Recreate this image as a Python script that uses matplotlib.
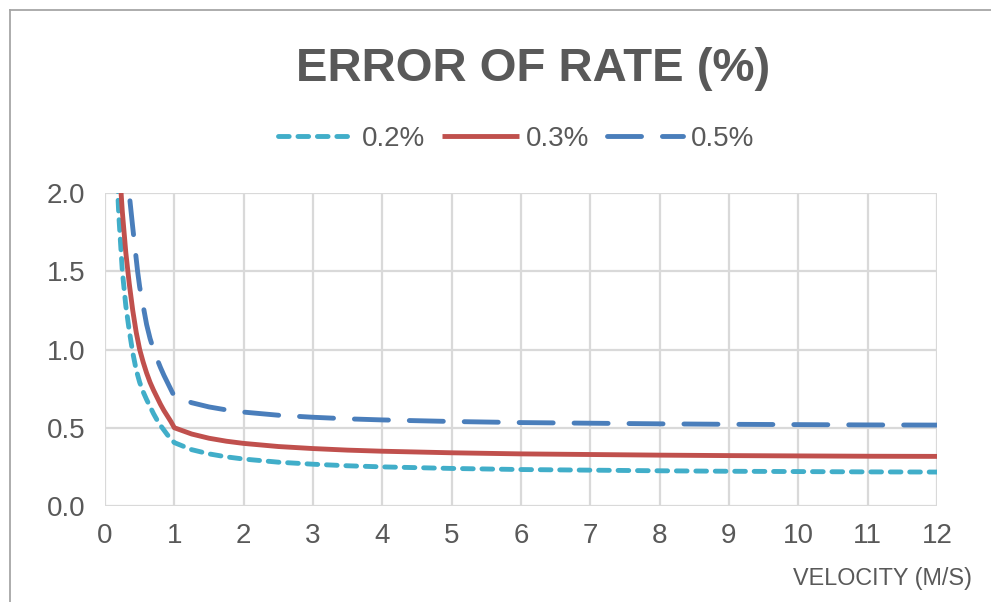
import matplotlib
matplotlib.use("Agg")
import matplotlib.pyplot as plt
from matplotlib.lines import Line2D

# velocity (m/s) and error of rate (%)
vel_02 = [0.15, 0.184, 0.2, 0.25, 0.3, 0.35, 0.4, 0.45, 0.5, 0.55, 0.6, 0.65, 0.7, 0.75,
          0.8, 0.85, 0.9, 0.95, 1, 1.25, 1.5, 1.75, 2, 2.5, 3, 3.5, 4, 5, 6, 7, 8, 9, 10, 11, 12]
err_02 = [2.45, 2.0, 1.85, 1.50, 1.28, 1.12, 0.98, 0.87, 0.79, 0.73, 0.68, 0.635, 0.59, 0.55,
          0.515, 0.485, 0.455, 0.43, 0.405, 0.36, 0.333, 0.314, 0.30, 0.28, 0.267, 0.257,
          0.25, 0.24, 0.233, 0.229, 0.225, 0.222, 0.22, 0.218, 0.217]

vel_03 = [0.2, 0.232, 0.25, 0.3, 0.33, 0.35, 0.4, 0.45, 0.5, 0.55, 0.6, 0.65, 0.7, 0.75,
          0.8, 0.85, 0.9, 0.95, 1, 1.25, 1.5, 1.75, 2, 2.5, 3, 3.5, 4, 5, 6, 7, 8, 9, 10, 11, 12]
err_03 = [2.35, 2.0, 1.88, 1.62, 1.5, 1.42, 1.25, 1.11, 1.0, 0.92, 0.85, 0.79, 0.74, 0.695,
          0.65, 0.61, 0.575, 0.54, 0.50, 0.46, 0.433, 0.414, 0.40, 0.38, 0.367, 0.357,
          0.35, 0.34, 0.333, 0.329, 0.325, 0.322, 0.32, 0.318, 0.317]

vel_05 = [0.3, 0.348, 0.4, 0.45, 0.47, 0.5, 0.55, 0.6, 0.65, 0.7, 0.75, 0.8, 0.85, 0.9, 0.95,
          1, 1.25, 1.5, 1.75, 2, 2.5, 3, 3.5, 4, 5, 6, 7, 8, 9, 10, 11, 12]
err_05 = [2.3, 2.0, 1.78, 1.58, 1.5, 1.40, 1.28, 1.16, 1.07, 1.00, 0.94, 0.885, 0.835, 0.79,
          0.745, 0.70, 0.66, 0.633, 0.614, 0.60, 0.58, 0.567, 0.557, 0.55, 0.54, 0.533,
          0.529, 0.525, 0.522, 0.52, 0.518, 0.517]

labels = ["0.2%", "0.3%", "0.5%"]
x_ticks = list(range(0, 13))
y_ticks = [0.0, 0.5, 1.0, 1.5, 2.0]

plt.rcParams['font.family'] = ['Liberation Sans', 'DejaVu Sans']
txt = '#595959'
grid = '#d9d9d9'

fig = plt.figure(figsize=(9.91, 6.02), dpi=100)
ax = fig.add_axes([105/991, 1-506/602, (937-105)/991, (506-193)/602])

lw = 3.5
ax.plot(vel_02, err_02, color='#41aec9', lw=lw, linestyle=(0, (2.2, 1.8)),
        dash_capstyle='round', label=labels[0], zorder=3)
ax.plot(vel_03, err_03, color='#c0504d', lw=lw, solid_capstyle='butt',
        solid_joinstyle='round', label=labels[1], zorder=3)
ax.plot(vel_05, err_05, color='#4a7ebb', lw=lw, linestyle=(0, (7.0, 4.3)),
        dash_capstyle='round', label=labels[2], zorder=3)

ax.set_xlim(0, 12)
ax.set_ylim(0, 2.0)
ax.set_xticks(x_ticks)
ax.set_yticks(y_ticks)
ax.set_yticklabels([f"{v:.1f}" for v in y_ticks])
ax.grid(True, color=grid, lw=1.6, zorder=0)
ax.set_axisbelow(True)
for s in ax.spines.values():
    s.set_visible(False)
ax.tick_params(length=0, labelsize=20, labelcolor=txt)
ax.tick_params(axis='y', pad=14)
ax.tick_params(axis='x', pad=12)

fig.text(533/991, 1-69/602, "ERROR OF RATE (%)", ha='center', va='center',
         fontsize=34, fontweight='bold', color=txt)
fig.text(972/991, 1-578/602, "VELOCITY (M/S)", ha='right', va='center',
         fontsize=16.8, color=txt)

fig.legend(loc='center', bbox_to_anchor=(516/991, 1-139/602), ncol=3,
           frameon=False, fontsize=20, labelcolor=txt, handlelength=2.77,
           handletextpad=0.25, columnspacing=0.61)

# chart area border (left and top visible)
fig.add_artist(Line2D([9.5/991, 9.5/991], [0, 1-10/602], transform=fig.transFigure,
                      color='#a6a6a6', lw=1.3))
fig.add_artist(Line2D([9.5/991, 1], [1-10/602, 1-10/602], transform=fig.transFigure,
                      color='#a6a6a6', lw=1.3))

fig.savefig("out.png", dpi=100)
